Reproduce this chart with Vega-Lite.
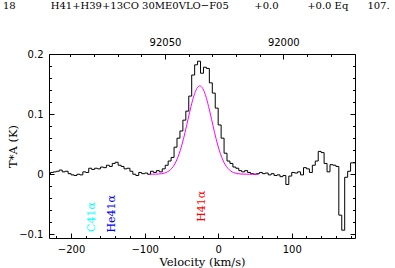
{
  "$schema": "https://vega.github.io/schema/vega-lite/v6.json",
  "width": 306,
  "height": 184,
  "autosize": {"type": "none"},
  "padding": {"left": 49, "top": 54, "right": 40, "bottom": 30},
  "background": "white",
  "config": {
    "view": {"stroke": null},
    "axis": {"domainColor": "black", "tickColor": "black", "labelColor": "black", "titleColor": "black", "grid": false, "labelFont": "DejaVu Sans", "labelFontSize": 10, "titleFont": "DejaVu Serif", "titleFontWeight": "normal", "titleFontSize": 11.5, "domainWidth": 1, "tickWidth": 1, "labelOverlap": false, "labelFlush": false}
  },
  "title": {
    "text": "18\u00a0\u00a0\u00a0\u00a0\u00a0\u00a0\u00a0\u00a0\u00a0\u00a0\u00a0H41+H39+13CO\u00a030ME0VLO\u2212F05\u00a0\u00a0\u00a0\u00a0\u00a0\u00a0\u00a0\u00a0+0.0\u00a0\u00a0\u00a0\u00a0\u00a0\u00a0\u00a0\u00a0\u00a0+0.0\u00a0Eq\u00a0\u00a0\u00a0\u00a0\u00a0\u00a0107.",
    "anchor": "start", "frame": "group", "dx": -46, "font": "DejaVu Serif", "fontSize": 10, "fontWeight": "normal", "color": "black", "offset": 18, "baseline": "alphabetic"
  },
  "datasets": {
    "spec": [
      {"v": -230, "T": 0.000}, {"v": -226, "T": 0.003}, {"v": -222, "T": 0.004}, {"v": -218, "T": 0.005},
      {"v": -214, "T": 0.007}, {"v": -210, "T": 0.004}, {"v": -206, "T": 0.005}, {"v": -202, "T": 0.001},
      {"v": -198, "T": -0.001}, {"v": -194, "T": -0.002}, {"v": -190, "T": 0.000}, {"v": -186, "T": -0.001},
      {"v": -182, "T": 0.004}, {"v": -178, "T": 0.003}, {"v": -174, "T": 0.010}, {"v": -170, "T": 0.008},
      {"v": -166, "T": 0.010}, {"v": -162, "T": 0.009}, {"v": -158, "T": 0.012}, {"v": -154, "T": 0.011},
      {"v": -150, "T": 0.015}, {"v": -146, "T": 0.013}, {"v": -142, "T": 0.018}, {"v": -138, "T": 0.020},
      {"v": -134, "T": 0.015}, {"v": -130, "T": 0.013}, {"v": -126, "T": 0.009}, {"v": -122, "T": 0.010},
      {"v": -118, "T": 0.005}, {"v": -114, "T": 0.000}, {"v": -110, "T": -0.002}, {"v": -106, "T": 0.003},
      {"v": -102, "T": 0.001}, {"v": -98, "T": 0.002}, {"v": -94, "T": 0.000}, {"v": -90, "T": 0.005},
      {"v": -86, "T": 0.003}, {"v": -82, "T": 0.006}, {"v": -78, "T": 0.004}, {"v": -74, "T": 0.009},
      {"v": -70, "T": 0.015}, {"v": -66, "T": 0.022}, {"v": -62, "T": 0.028}, {"v": -58, "T": 0.045},
      {"v": -54, "T": 0.060}, {"v": -50, "T": 0.072}, {"v": -46, "T": 0.090}, {"v": -42, "T": 0.105},
      {"v": -38, "T": 0.130}, {"v": -34, "T": 0.165}, {"v": -30, "T": 0.182}, {"v": -26, "T": 0.188},
      {"v": -22, "T": 0.168}, {"v": -18, "T": 0.178}, {"v": -14, "T": 0.176}, {"v": -10, "T": 0.152},
      {"v": -6, "T": 0.135}, {"v": -2, "T": 0.110}, {"v": 2, "T": 0.082}, {"v": 6, "T": 0.060},
      {"v": 10, "T": 0.035}, {"v": 14, "T": 0.022}, {"v": 18, "T": 0.018}, {"v": 22, "T": 0.012},
      {"v": 26, "T": 0.010}, {"v": 30, "T": 0.006}, {"v": 34, "T": 0.004}, {"v": 38, "T": 0.006},
      {"v": 42, "T": 0.003}, {"v": 46, "T": 0.001}, {"v": 50, "T": 0.000}, {"v": 54, "T": 0.001},
      {"v": 58, "T": 0.003}, {"v": 62, "T": 0.001}, {"v": 66, "T": 0.002}, {"v": 70, "T": -0.001},
      {"v": 74, "T": 0.001}, {"v": 78, "T": -0.002}, {"v": 82, "T": -0.001}, {"v": 86, "T": -0.004},
      {"v": 90, "T": -0.002}, {"v": 94, "T": -0.017}, {"v": 98, "T": -0.003}, {"v": 102, "T": 0.003},
      {"v": 106, "T": 0.002}, {"v": 110, "T": 0.004}, {"v": 114, "T": -0.001}, {"v": 118, "T": 0.011},
      {"v": 122, "T": 0.009}, {"v": 126, "T": 0.003}, {"v": 130, "T": 0.015}, {"v": 134, "T": 0.022},
      {"v": 138, "T": 0.038}, {"v": 142, "T": 0.036}, {"v": 146, "T": 0.018}, {"v": 150, "T": 0.004},
      {"v": 154, "T": 0.016}, {"v": 158, "T": 0.015}, {"v": 162, "T": 0.013}, {"v": 166, "T": -0.068},
      {"v": 170, "T": -0.093}, {"v": 174, "T": -0.005}, {"v": 178, "T": 0.005}, {"v": 182, "T": 0.019},
      {"v": 186, "T": 0.019}
    ],
    "fit": [
      {"v": -93, "T": 0.0000}, {"v": -89, "T": 0.0001}, {"v": -85, "T": 0.0002}, {"v": -81, "T": 0.0004},
      {"v": -77, "T": 0.0010}, {"v": -73, "T": 0.0020}, {"v": -69, "T": 0.0040}, {"v": -65, "T": 0.0075},
      {"v": -61, "T": 0.0132}, {"v": -57, "T": 0.0219}, {"v": -53, "T": 0.0342}, {"v": -49, "T": 0.0504},
      {"v": -45, "T": 0.0699}, {"v": -41, "T": 0.0913}, {"v": -37, "T": 0.1125}, {"v": -33, "T": 0.1305},
      {"v": -29, "T": 0.1427}, {"v": -25, "T": 0.1470}, {"v": -21, "T": 0.1427}, {"v": -17, "T": 0.1305},
      {"v": -13, "T": 0.1125}, {"v": -9, "T": 0.0913}, {"v": -5, "T": 0.0699}, {"v": -1, "T": 0.0504},
      {"v": 3, "T": 0.0342}, {"v": 7, "T": 0.0219}, {"v": 11, "T": 0.0132}, {"v": 15, "T": 0.0075},
      {"v": 19, "T": 0.0040}, {"v": 23, "T": 0.0020}, {"v": 27, "T": 0.0010}, {"v": 31, "T": 0.0004},
      {"v": 35, "T": 0.0002}, {"v": 39, "T": 0.0001}, {"v": 43, "T": 0.0000}, {"v": 47, "T": 0.0000},
      {"v": 51, "T": 0.0000}, {"v": 55, "T": 0.0000}
    ],
    "lines": [
      {"v": -171.5, "T": -0.096, "label": "C41α"},
      {"v": -144, "T": -0.097, "label": "He41α"},
      {"v": -22, "T": -0.079, "label": "H41α"}
    ],
    "freq": [
      {"f": 91969.7, "T": 0},
      {"f": 92099.0, "T": 0}
    ]
  },
  "layer": [
    {
      "data": {"name": "spec"},
      "mark": {"type": "line", "interpolate": "step", "color": "black", "strokeWidth": 1, "clip": true},
      "encoding": {
        "x": {"field": "v", "type": "quantitative", "scale": {"domain": [-230, 186], "nice": false, "zero": false},
          "axis": {"orient": "bottom", "values": [-200, -100, 0, 100], "ticks": false, "labelPadding": 6, "title": "Velocity (km/s)", "titlePadding": 2}},
        "y": {"field": "T", "type": "quantitative", "scale": {"domain": [-0.106, 0.2], "nice": false, "zero": false},
          "axis": {"orient": "left", "values": [-0.1, 0, 0.1, 0.2], "ticks": false, "labelPadding": 6, "labelExpr": "datum.value == 0 ? '0' : format(datum.value, '.1f')", "title": "T*A (K)", "titlePadding": 0}}
      }
    },
    {
      "data": {"name": "fit"},
      "mark": {"type": "line", "interpolate": "monotone", "color": "#ff00ff", "strokeWidth": 1, "clip": true},
      "encoding": {
        "x": {"field": "v", "type": "quantitative", "scale": {"domain": [-230, 186], "nice": false, "zero": false},
          "axis": {"orient": "bottom", "values": [-200, -100, 0, 100], "labels": false, "domain": false, "tickSize": -5, "title": null}},
        "y": {"field": "T", "type": "quantitative", "scale": {"domain": [-0.106, 0.2], "nice": false, "zero": false},
          "axis": {"orient": "left", "values": [-0.1, 0, 0.1, 0.2], "labels": false, "domain": false, "tickSize": -5, "title": null}}
      }
    },
    {
      "data": {"name": "lines"},
      "mark": {"type": "text", "angle": 270, "align": "left", "baseline": "middle", "font": "DejaVu Serif", "fontSize": 11},
      "encoding": {
        "x": {"field": "v", "type": "quantitative", "scale": {"domain": [-230, 186], "nice": false, "zero": false},
          "axis": {"orient": "bottom", "values": [-220, -180, -160, -140, -120, -80, -60, -40, -20, 20, 40, 60, 80, 120, 140, 160, 180], "labels": false, "domain": false, "tickSize": -2.5, "title": null}},
        "y": {"field": "T", "type": "quantitative", "scale": {"domain": [-0.106, 0.2], "nice": false, "zero": false},
          "axis": {"orient": "left", "values": [-0.08, -0.06, -0.04, -0.02, 0.02, 0.04, 0.06, 0.08, 0.12, 0.14, 0.16, 0.18], "labels": false, "domain": false, "tickSize": -2.5, "title": null}},
        "text": {"field": "label"},
        "color": {"field": "label", "type": "nominal", "scale": {"domain": ["C41α", "He41α", "H41α"], "range": ["#00ffff", "#0000ff", "#ff0000"]}, "legend": null}
      }
    },
    {
      "data": {"name": "freq"},
      "mark": {"type": "point", "opacity": 0},
      "encoding": {
        "x": {"field": "f", "type": "quantitative", "scale": {"domain": [91969.7, 92099.0], "reverse": true, "nice": false, "zero": false},
          "axis": {"orient": "top", "values": [92050, 92000], "format": "d", "ticks": false, "labelPadding": 7, "title": null}},
        "y": {"field": "T", "type": "quantitative", "scale": {"domain": [-0.106, 0.2], "nice": false, "zero": false},
          "axis": {"orient": "right", "values": [-0.1, 0, 0.1, 0.2], "labels": false, "tickSize": -5, "title": null}}
      }
    },
    {
      "data": {"name": "freq"},
      "mark": {"type": "point", "opacity": 0},
      "encoding": {
        "x": {"field": "f", "type": "quantitative", "scale": {"domain": [91969.7, 92099.0], "reverse": true, "nice": false, "zero": false},
          "axis": {"orient": "top", "values": [92050, 92000], "labels": false, "domain": false, "tickSize": -5, "title": null}},
        "y": {"field": "T", "type": "quantitative", "scale": {"domain": [-0.106, 0.2], "nice": false, "zero": false},
          "axis": {"orient": "right", "values": [-0.08, -0.06, -0.04, -0.02, 0.02, 0.04, 0.06, 0.08, 0.12, 0.14, 0.16, 0.18], "labels": false, "domain": false, "tickSize": -2.5, "title": null}}
      }
    },
    {
      "data": {"name": "freq"},
      "mark": {"type": "point", "opacity": 0},
      "encoding": {
        "x": {"field": "f", "type": "quantitative", "scale": {"domain": [91969.7, 92099.0], "reverse": true, "nice": false, "zero": false},
          "axis": {"orient": "top", "values": [92090, 92080, 92070, 92060, 92040, 92030, 92020, 92010, 91990, 91980], "labels": false, "domain": false, "tickSize": -2.5, "title": null}},
        "y": {"field": "T", "type": "quantitative", "scale": {"domain": [-0.106, 0.2], "nice": false, "zero": false}, "axis": null}
      }
    }
  ],
  "resolve": {"scale": {"x": "independent", "y": "independent"}, "axis": {"x": "independent", "y": "independent"}}
}
